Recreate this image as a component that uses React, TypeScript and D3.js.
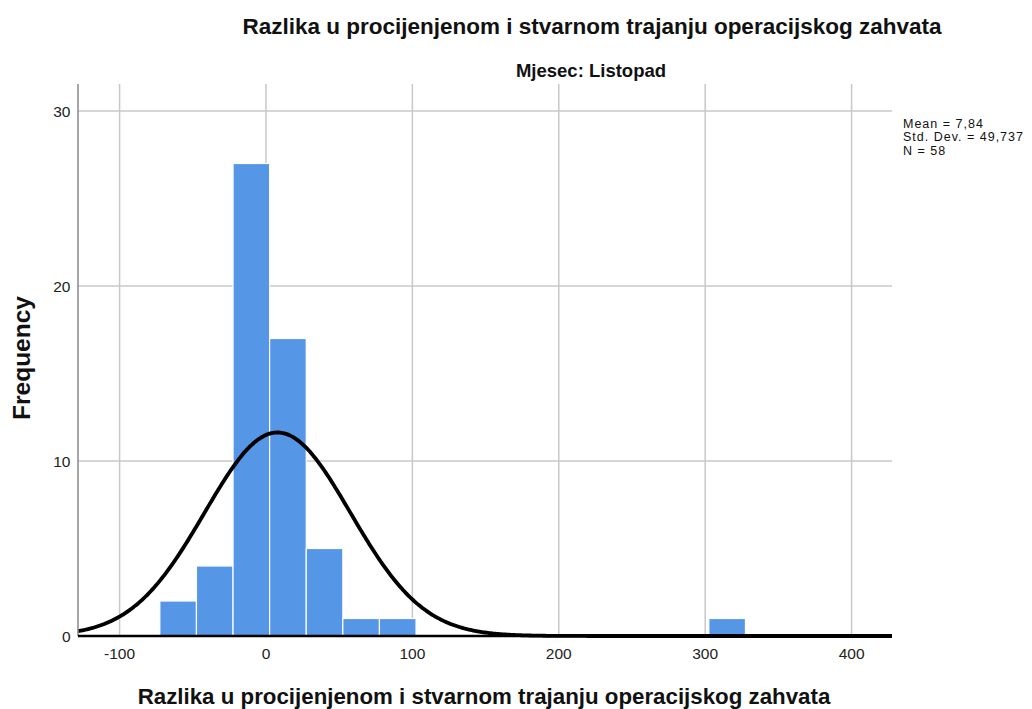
import { FC, useEffect, useRef } from 'react';
import * as d3 from 'd3';

// histogram bins (lower edge) and counts, bin width 25
const binStarts = [-72.5, -47.5, -22.5, 2.5, 27.5, 52.5, 77.5, 302.5];
const binCounts = [2, 4, 27, 17, 5, 1, 1, 1];
const binWidth = 25;
const xTicks = [-100, 0, 100, 200, 300, 400];
const yTicks = [0, 10, 20, 30];
const statLines = ['Mean = 7,84', 'Std. Dev. = 49,737', 'N = 58'];
const mean = 7.84;
const sd = 49.737;
const n = 58;

const W = 1032;
const H = 709;

const App: FC = () => {
  const ref = useRef<SVGSVGElement | null>(null);

  useEffect(() => {
    const svg = d3.select(ref.current);
    svg.selectAll('*').remove();

    const left = 78, right = 892, top = 84, bottom = 636;
    const x = d3.scaleLinear().domain([-128.4, 427.6]).range([left, right]);
    const y = d3.scaleLinear().domain([0, 30]).range([bottom, 111]);
    const font = '"Liberation Sans", Arial, sans-serif';

    svg.append('rect').attr('width', W).attr('height', H).attr('fill', 'white');

    // grid
    svg.append('g')
      .selectAll('line')
      .data(xTicks)
      .enter()
      .append('line')
      .attr('x1', d => x(d)).attr('x2', d => x(d))
      .attr('y1', top).attr('y2', bottom)
      .attr('stroke', '#c8c8c8').attr('stroke-width', 1.5);

    svg.append('g')
      .selectAll('line')
      .data(yTicks.filter(d => d > 0))
      .enter()
      .append('line')
      .attr('x1', left).attr('x2', right)
      .attr('y1', d => y(d)).attr('y2', d => y(d))
      .attr('stroke', '#c8c8c8').attr('stroke-width', 1.5);

    // bars
    svg.append('g')
      .selectAll('rect')
      .data(binStarts.map((s, i) => ({ s, c: binCounts[i] })))
      .enter()
      .append('rect')
      .attr('x', d => x(d.s))
      .attr('width', d => x(d.s + binWidth) - x(d.s))
      .attr('y', d => y(d.c))
      .attr('height', d => y(0) - y(d.c))
      .attr('fill', '#5596e6')
      .attr('stroke', '#ffffff')
      .attr('stroke-width', 1.2);

    // normal curve
    const scale = (n * binWidth) / (sd * Math.sqrt(2 * Math.PI));
    const pts = d3.range(-128.4, 427.7, 1).map(v => [v, scale * Math.exp(-0.5 * ((v - mean) / sd) ** 2)] as [number, number]);
    svg.append('path')
      .attr('d', d3.line<[number, number]>().x(d => x(d[0])).y(d => y(d[1])).curve(d3.curveBasis)(pts) as string)
      .attr('fill', 'none')
      .attr('stroke', '#000')
      .attr('stroke-width', 3.8);

    // axes lines
    svg.append('line')
      .attr('x1', left).attr('x2', left).attr('y1', top).attr('y2', bottom)
      .attr('stroke', '#888').attr('stroke-width', 1.5);
    svg.append('line')
      .attr('x1', left).attr('x2', right).attr('y1', bottom).attr('y2', bottom)
      .attr('stroke', '#000').attr('stroke-width', 2.5);

    // tick labels
    svg.append('g')
      .selectAll('text')
      .data(xTicks)
      .enter()
      .append('text')
      .attr('x', d => x(d)).attr('y', 659)
      .attr('text-anchor', 'middle')
      .attr('font-family', font).attr('font-size', 15.5)
      .attr('fill', '#222')
      .text(d => d);

    svg.append('g')
      .selectAll('text')
      .data(yTicks)
      .enter()
      .append('text')
      .attr('x', 70.5).attr('y', d => y(d)).attr('dy', '0.36em')
      .attr('text-anchor', 'end')
      .attr('font-family', font).attr('font-size', 15.5)
      .attr('fill', '#222')
      .text(d => d);

    // titles
    svg.append('text')
      .attr('x', 592).attr('y', 33.5)
      .attr('text-anchor', 'middle')
      .attr('font-family', font).attr('font-size', 22.5).attr('font-weight', 'bold')
      .attr('fill', '#111')
      .text('Razlika u procijenjenom i stvarnom trajanju operacijskog zahvata');

    svg.append('text')
      .attr('x', 591).attr('y', 76.5)
      .attr('text-anchor', 'middle')
      .attr('font-family', font).attr('font-size', 18.5).attr('font-weight', 'bold')
      .attr('fill', '#111')
      .text('Mjesec: Listopad');

    svg.append('text')
      .attr('x', 484).attr('y', 704)
      .attr('text-anchor', 'middle')
      .attr('font-family', font).attr('font-size', 22.3).attr('font-weight', 'bold')
      .attr('fill', '#111')
      .text('Razlika u procijenjenom i stvarnom trajanju operacijskog zahvata');

    svg.append('text')
      .attr('transform', `translate(30,358) rotate(-90)`)
      .attr('text-anchor', 'middle')
      .attr('font-family', font).attr('font-size', 24.5).attr('font-weight', 'bold')
      .attr('fill', '#111')
      .text('Frequency');

    // stats
    svg.append('g')
      .selectAll('text')
      .data(statLines)
      .enter()
      .append('text')
      .attr('x', 903).attr('y', (d, i) => 127.5 + i * 13.5)
      .attr('font-family', font).attr('font-size', 12.5)
      .attr('letter-spacing', 1.0)
      .attr('fill', '#111')
      .text(d => d);
  }, []);

  return <svg ref={ref} width={W} height={H} style={{ position: 'absolute', left: 0, top: 0 }} />;
};

export default App;
